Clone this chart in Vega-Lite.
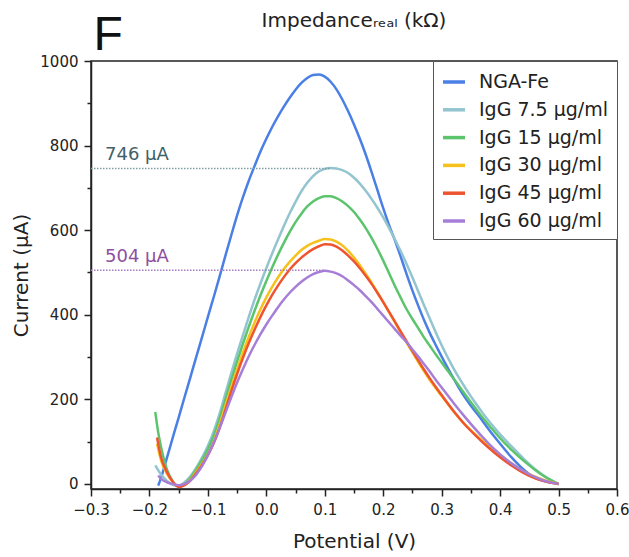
{
  "$schema": "https://vega.github.io/schema/vega-lite/v6.json",
  "width": 629,
  "height": 557,
  "autosize": {"type": "fit", "contains": "padding"},
  "padding": {"left": 11, "right": 0, "top": 11, "bottom": 6},
  "background": "white",
  "config": {"font": "DejaVu Sans", "view": {"stroke": "#222", "strokeWidth": 1.5}},
  "title": {"text": "Impedanceᵣₑₐₗ (kΩ)", "anchor": "middle", "frame": "group", "fontSize": 20, "fontWeight": "normal", "color": "#222", "offset": -20},
  "datasets": {
    "refs": [
      {"id": "a", "x0": -0.3, "x1": 0.109, "y": 746, "lx": -0.276, "ly": 767, "label": "746 μA"},
      {"id": "b", "x0": -0.3, "x1": 0.1, "y": 505, "lx": -0.276, "ly": 525, "label": "504 μA"}
    ],
    "curves": [
      {"s":"NGA-Fe","V":-0.185,"I":-4},{"s":"NGA-Fe","V":-0.18,"I":15},{"s":"NGA-Fe","V":-0.17,"I":62},{"s":"NGA-Fe","V":-0.16,"I":110},{"s":"NGA-Fe","V":-0.15,"I":157},{"s":"NGA-Fe","V":-0.14,"I":205},{"s":"NGA-Fe","V":-0.13,"I":252},{"s":"NGA-Fe","V":-0.12,"I":300},{"s":"NGA-Fe","V":-0.11,"I":347},{"s":"NGA-Fe","V":-0.10,"I":395},{"s":"NGA-Fe","V":-0.09,"I":442},{"s":"NGA-Fe","V":-0.08,"I":490},{"s":"NGA-Fe","V":-0.07,"I":540},{"s":"NGA-Fe","V":-0.06,"I":588},{"s":"NGA-Fe","V":-0.05,"I":635},{"s":"NGA-Fe","V":-0.04,"I":678},{"s":"NGA-Fe","V":-0.03,"I":717},{"s":"NGA-Fe","V":-0.02,"I":752},{"s":"NGA-Fe","V":-0.01,"I":786},{"s":"NGA-Fe","V":0.0,"I":816},{"s":"NGA-Fe","V":0.01,"I":844},{"s":"NGA-Fe","V":0.02,"I":869},{"s":"NGA-Fe","V":0.03,"I":892},{"s":"NGA-Fe","V":0.04,"I":913},{"s":"NGA-Fe","V":0.05,"I":932},{"s":"NGA-Fe","V":0.06,"I":948},{"s":"NGA-Fe","V":0.07,"I":960},{"s":"NGA-Fe","V":0.08,"I":967},{"s":"NGA-Fe","V":0.09,"I":968},{"s":"NGA-Fe","V":0.10,"I":963},{"s":"NGA-Fe","V":0.11,"I":951},{"s":"NGA-Fe","V":0.12,"I":933},{"s":"NGA-Fe","V":0.13,"I":909},{"s":"NGA-Fe","V":0.14,"I":881},{"s":"NGA-Fe","V":0.15,"I":850},{"s":"NGA-Fe","V":0.16,"I":816},{"s":"NGA-Fe","V":0.17,"I":779},{"s":"NGA-Fe","V":0.18,"I":738},{"s":"NGA-Fe","V":0.19,"I":695},{"s":"NGA-Fe","V":0.20,"I":652},{"s":"NGA-Fe","V":0.21,"I":612},{"s":"NGA-Fe","V":0.22,"I":576},{"s":"NGA-Fe","V":0.23,"I":537},{"s":"NGA-Fe","V":0.24,"I":496},{"s":"NGA-Fe","V":0.25,"I":457},{"s":"NGA-Fe","V":0.26,"I":421},{"s":"NGA-Fe","V":0.27,"I":387},{"s":"NGA-Fe","V":0.28,"I":356},{"s":"NGA-Fe","V":0.29,"I":328},{"s":"NGA-Fe","V":0.30,"I":301},{"s":"NGA-Fe","V":0.31,"I":275},{"s":"NGA-Fe","V":0.32,"I":250},{"s":"NGA-Fe","V":0.33,"I":226},{"s":"NGA-Fe","V":0.34,"I":204},{"s":"NGA-Fe","V":0.35,"I":185},{"s":"NGA-Fe","V":0.36,"I":167},{"s":"NGA-Fe","V":0.37,"I":149},{"s":"NGA-Fe","V":0.38,"I":130},{"s":"NGA-Fe","V":0.39,"I":112},{"s":"NGA-Fe","V":0.40,"I":95},{"s":"NGA-Fe","V":0.42,"I":62},{"s":"NGA-Fe","V":0.44,"I":34},{"s":"NGA-Fe","V":0.46,"I":14},{"s":"NGA-Fe","V":0.48,"I":5},{"s":"NGA-Fe","V":0.50,"I":0},

      {"s":"IgG 7.5 μg/ml","V":-0.19,"I":44},{"s":"IgG 7.5 μg/ml","V":-0.18,"I":22},{"s":"IgG 7.5 μg/ml","V":-0.17,"I":7},{"s":"IgG 7.5 μg/ml","V":-0.16,"I":-2},{"s":"IgG 7.5 μg/ml","V":-0.15,"I":-4},{"s":"IgG 7.5 μg/ml","V":-0.14,"I":4},{"s":"IgG 7.5 μg/ml","V":-0.13,"I":18},{"s":"IgG 7.5 μg/ml","V":-0.12,"I":38},{"s":"IgG 7.5 μg/ml","V":-0.11,"I":62},{"s":"IgG 7.5 μg/ml","V":-0.10,"I":90},{"s":"IgG 7.5 μg/ml","V":-0.09,"I":124},{"s":"IgG 7.5 μg/ml","V":-0.08,"I":166},{"s":"IgG 7.5 μg/ml","V":-0.07,"I":214},{"s":"IgG 7.5 μg/ml","V":-0.06,"I":262},{"s":"IgG 7.5 μg/ml","V":-0.05,"I":308},{"s":"IgG 7.5 μg/ml","V":-0.04,"I":352},{"s":"IgG 7.5 μg/ml","V":-0.03,"I":395},{"s":"IgG 7.5 μg/ml","V":-0.02,"I":436},{"s":"IgG 7.5 μg/ml","V":-0.01,"I":474},{"s":"IgG 7.5 μg/ml","V":0.0,"I":510},{"s":"IgG 7.5 μg/ml","V":0.01,"I":545},{"s":"IgG 7.5 μg/ml","V":0.02,"I":578},{"s":"IgG 7.5 μg/ml","V":0.03,"I":610},{"s":"IgG 7.5 μg/ml","V":0.04,"I":640},{"s":"IgG 7.5 μg/ml","V":0.05,"I":667},{"s":"IgG 7.5 μg/ml","V":0.06,"I":692},{"s":"IgG 7.5 μg/ml","V":0.07,"I":712},{"s":"IgG 7.5 μg/ml","V":0.08,"I":728},{"s":"IgG 7.5 μg/ml","V":0.09,"I":739},{"s":"IgG 7.5 μg/ml","V":0.10,"I":745},{"s":"IgG 7.5 μg/ml","V":0.11,"I":747},{"s":"IgG 7.5 μg/ml","V":0.12,"I":746},{"s":"IgG 7.5 μg/ml","V":0.13,"I":742},{"s":"IgG 7.5 μg/ml","V":0.14,"I":735},{"s":"IgG 7.5 μg/ml","V":0.15,"I":724},{"s":"IgG 7.5 μg/ml","V":0.16,"I":710},{"s":"IgG 7.5 μg/ml","V":0.17,"I":693},{"s":"IgG 7.5 μg/ml","V":0.18,"I":674},{"s":"IgG 7.5 μg/ml","V":0.19,"I":653},{"s":"IgG 7.5 μg/ml","V":0.20,"I":630},{"s":"IgG 7.5 μg/ml","V":0.21,"I":605},{"s":"IgG 7.5 μg/ml","V":0.22,"I":578},{"s":"IgG 7.5 μg/ml","V":0.23,"I":550},{"s":"IgG 7.5 μg/ml","V":0.24,"I":520},{"s":"IgG 7.5 μg/ml","V":0.25,"I":488},{"s":"IgG 7.5 μg/ml","V":0.26,"I":455},{"s":"IgG 7.5 μg/ml","V":0.27,"I":422},{"s":"IgG 7.5 μg/ml","V":0.28,"I":390},{"s":"IgG 7.5 μg/ml","V":0.29,"I":358},{"s":"IgG 7.5 μg/ml","V":0.30,"I":328},{"s":"IgG 7.5 μg/ml","V":0.31,"I":300},{"s":"IgG 7.5 μg/ml","V":0.32,"I":274},{"s":"IgG 7.5 μg/ml","V":0.33,"I":250},{"s":"IgG 7.5 μg/ml","V":0.34,"I":228},{"s":"IgG 7.5 μg/ml","V":0.35,"I":207},{"s":"IgG 7.5 μg/ml","V":0.36,"I":187},{"s":"IgG 7.5 μg/ml","V":0.37,"I":168},{"s":"IgG 7.5 μg/ml","V":0.38,"I":150},{"s":"IgG 7.5 μg/ml","V":0.39,"I":133},{"s":"IgG 7.5 μg/ml","V":0.40,"I":117},{"s":"IgG 7.5 μg/ml","V":0.42,"I":88},{"s":"IgG 7.5 μg/ml","V":0.44,"I":60},{"s":"IgG 7.5 μg/ml","V":0.46,"I":35},{"s":"IgG 7.5 μg/ml","V":0.48,"I":15},{"s":"IgG 7.5 μg/ml","V":0.50,"I":0},

      {"s":"IgG 15 μg/ml","V":-0.19,"I":170},{"s":"IgG 15 μg/ml","V":-0.185,"I":122},{"s":"IgG 15 μg/ml","V":-0.18,"I":86},{"s":"IgG 15 μg/ml","V":-0.175,"I":57},{"s":"IgG 15 μg/ml","V":-0.17,"I":34},{"s":"IgG 15 μg/ml","V":-0.16,"I":6},{"s":"IgG 15 μg/ml","V":-0.15,"I":-6},{"s":"IgG 15 μg/ml","V":-0.14,"I":0},{"s":"IgG 15 μg/ml","V":-0.13,"I":14},{"s":"IgG 15 μg/ml","V":-0.12,"I":34},{"s":"IgG 15 μg/ml","V":-0.11,"I":56},{"s":"IgG 15 μg/ml","V":-0.10,"I":82},{"s":"IgG 15 μg/ml","V":-0.09,"I":114},{"s":"IgG 15 μg/ml","V":-0.08,"I":154},{"s":"IgG 15 μg/ml","V":-0.07,"I":200},{"s":"IgG 15 μg/ml","V":-0.06,"I":246},{"s":"IgG 15 μg/ml","V":-0.05,"I":290},{"s":"IgG 15 μg/ml","V":-0.04,"I":332},{"s":"IgG 15 μg/ml","V":-0.03,"I":372},{"s":"IgG 15 μg/ml","V":-0.02,"I":410},{"s":"IgG 15 μg/ml","V":-0.01,"I":446},{"s":"IgG 15 μg/ml","V":0.0,"I":480},{"s":"IgG 15 μg/ml","V":0.01,"I":512},{"s":"IgG 15 μg/ml","V":0.02,"I":542},{"s":"IgG 15 μg/ml","V":0.03,"I":570},{"s":"IgG 15 μg/ml","V":0.04,"I":596},{"s":"IgG 15 μg/ml","V":0.05,"I":619},{"s":"IgG 15 μg/ml","V":0.06,"I":639},{"s":"IgG 15 μg/ml","V":0.07,"I":656},{"s":"IgG 15 μg/ml","V":0.08,"I":668},{"s":"IgG 15 μg/ml","V":0.09,"I":676},{"s":"IgG 15 μg/ml","V":0.10,"I":680},{"s":"IgG 15 μg/ml","V":0.11,"I":680},{"s":"IgG 15 μg/ml","V":0.12,"I":676},{"s":"IgG 15 μg/ml","V":0.13,"I":668},{"s":"IgG 15 μg/ml","V":0.14,"I":657},{"s":"IgG 15 μg/ml","V":0.15,"I":643},{"s":"IgG 15 μg/ml","V":0.16,"I":625},{"s":"IgG 15 μg/ml","V":0.17,"I":605},{"s":"IgG 15 μg/ml","V":0.18,"I":582},{"s":"IgG 15 μg/ml","V":0.19,"I":556},{"s":"IgG 15 μg/ml","V":0.20,"I":528},{"s":"IgG 15 μg/ml","V":0.21,"I":498},{"s":"IgG 15 μg/ml","V":0.22,"I":468},{"s":"IgG 15 μg/ml","V":0.23,"I":440},{"s":"IgG 15 μg/ml","V":0.24,"I":413},{"s":"IgG 15 μg/ml","V":0.25,"I":390},{"s":"IgG 15 μg/ml","V":0.26,"I":368},{"s":"IgG 15 μg/ml","V":0.27,"I":346},{"s":"IgG 15 μg/ml","V":0.28,"I":326},{"s":"IgG 15 μg/ml","V":0.29,"I":306},{"s":"IgG 15 μg/ml","V":0.30,"I":287},{"s":"IgG 15 μg/ml","V":0.31,"I":268},{"s":"IgG 15 μg/ml","V":0.32,"I":250},{"s":"IgG 15 μg/ml","V":0.33,"I":231},{"s":"IgG 15 μg/ml","V":0.34,"I":212},{"s":"IgG 15 μg/ml","V":0.35,"I":193},{"s":"IgG 15 μg/ml","V":0.36,"I":175},{"s":"IgG 15 μg/ml","V":0.37,"I":157},{"s":"IgG 15 μg/ml","V":0.38,"I":140},{"s":"IgG 15 μg/ml","V":0.39,"I":124},{"s":"IgG 15 μg/ml","V":0.40,"I":108},{"s":"IgG 15 μg/ml","V":0.42,"I":80},{"s":"IgG 15 μg/ml","V":0.44,"I":55},{"s":"IgG 15 μg/ml","V":0.46,"I":33},{"s":"IgG 15 μg/ml","V":0.48,"I":14},{"s":"IgG 15 μg/ml","V":0.50,"I":0},

      {"s":"IgG 30 μg/ml","V":-0.187,"I":95},{"s":"IgG 30 μg/ml","V":-0.18,"I":55},{"s":"IgG 30 μg/ml","V":-0.17,"I":24},{"s":"IgG 30 μg/ml","V":-0.16,"I":4},{"s":"IgG 30 μg/ml","V":-0.15,"I":-6},{"s":"IgG 30 μg/ml","V":-0.14,"I":-2},{"s":"IgG 30 μg/ml","V":-0.13,"I":10},{"s":"IgG 30 μg/ml","V":-0.12,"I":28},{"s":"IgG 30 μg/ml","V":-0.11,"I":48},{"s":"IgG 30 μg/ml","V":-0.10,"I":70},{"s":"IgG 30 μg/ml","V":-0.09,"I":100},{"s":"IgG 30 μg/ml","V":-0.08,"I":140},{"s":"IgG 30 μg/ml","V":-0.07,"I":185},{"s":"IgG 30 μg/ml","V":-0.06,"I":229},{"s":"IgG 30 μg/ml","V":-0.05,"I":271},{"s":"IgG 30 μg/ml","V":-0.04,"I":311},{"s":"IgG 30 μg/ml","V":-0.03,"I":348},{"s":"IgG 30 μg/ml","V":-0.02,"I":382},{"s":"IgG 30 μg/ml","V":-0.01,"I":413},{"s":"IgG 30 μg/ml","V":0.0,"I":441},{"s":"IgG 30 μg/ml","V":0.01,"I":466},{"s":"IgG 30 μg/ml","V":0.02,"I":488},{"s":"IgG 30 μg/ml","V":0.03,"I":508},{"s":"IgG 30 μg/ml","V":0.04,"I":525},{"s":"IgG 30 μg/ml","V":0.05,"I":540},{"s":"IgG 30 μg/ml","V":0.06,"I":553},{"s":"IgG 30 μg/ml","V":0.07,"I":563},{"s":"IgG 30 μg/ml","V":0.08,"I":570},{"s":"IgG 30 μg/ml","V":0.09,"I":575},{"s":"IgG 30 μg/ml","V":0.10,"I":579},{"s":"IgG 30 μg/ml","V":0.11,"I":578},{"s":"IgG 30 μg/ml","V":0.12,"I":573},{"s":"IgG 30 μg/ml","V":0.13,"I":564},{"s":"IgG 30 μg/ml","V":0.14,"I":551},{"s":"IgG 30 μg/ml","V":0.15,"I":535},{"s":"IgG 30 μg/ml","V":0.16,"I":517},{"s":"IgG 30 μg/ml","V":0.17,"I":497},{"s":"IgG 30 μg/ml","V":0.18,"I":476},{"s":"IgG 30 μg/ml","V":0.19,"I":453},{"s":"IgG 30 μg/ml","V":0.20,"I":430},{"s":"IgG 30 μg/ml","V":0.21,"I":406},{"s":"IgG 30 μg/ml","V":0.22,"I":382},{"s":"IgG 30 μg/ml","V":0.23,"I":358},{"s":"IgG 30 μg/ml","V":0.24,"I":334},{"s":"IgG 30 μg/ml","V":0.25,"I":311},{"s":"IgG 30 μg/ml","V":0.26,"I":288},{"s":"IgG 30 μg/ml","V":0.27,"I":266},{"s":"IgG 30 μg/ml","V":0.28,"I":245},{"s":"IgG 30 μg/ml","V":0.29,"I":226},{"s":"IgG 30 μg/ml","V":0.30,"I":208},{"s":"IgG 30 μg/ml","V":0.32,"I":172},{"s":"IgG 30 μg/ml","V":0.34,"I":140},{"s":"IgG 30 μg/ml","V":0.36,"I":114},{"s":"IgG 30 μg/ml","V":0.38,"I":90},{"s":"IgG 30 μg/ml","V":0.40,"I":69},{"s":"IgG 30 μg/ml","V":0.42,"I":48},{"s":"IgG 30 μg/ml","V":0.44,"I":30},{"s":"IgG 30 μg/ml","V":0.46,"I":17},{"s":"IgG 30 μg/ml","V":0.48,"I":7},{"s":"IgG 30 μg/ml","V":0.50,"I":0},

      {"s":"IgG 45 μg/ml","V":-0.187,"I":110},{"s":"IgG 45 μg/ml","V":-0.18,"I":62},{"s":"IgG 45 μg/ml","V":-0.17,"I":28},{"s":"IgG 45 μg/ml","V":-0.16,"I":5},{"s":"IgG 45 μg/ml","V":-0.15,"I":-7},{"s":"IgG 45 μg/ml","V":-0.14,"I":-3},{"s":"IgG 45 μg/ml","V":-0.13,"I":8},{"s":"IgG 45 μg/ml","V":-0.12,"I":25},{"s":"IgG 45 μg/ml","V":-0.11,"I":45},{"s":"IgG 45 μg/ml","V":-0.10,"I":68},{"s":"IgG 45 μg/ml","V":-0.09,"I":96},{"s":"IgG 45 μg/ml","V":-0.08,"I":132},{"s":"IgG 45 μg/ml","V":-0.07,"I":175},{"s":"IgG 45 μg/ml","V":-0.06,"I":219},{"s":"IgG 45 μg/ml","V":-0.05,"I":260},{"s":"IgG 45 μg/ml","V":-0.04,"I":298},{"s":"IgG 45 μg/ml","V":-0.03,"I":333},{"s":"IgG 45 μg/ml","V":-0.02,"I":365},{"s":"IgG 45 μg/ml","V":-0.01,"I":395},{"s":"IgG 45 μg/ml","V":0.0,"I":422},{"s":"IgG 45 μg/ml","V":0.01,"I":447},{"s":"IgG 45 μg/ml","V":0.02,"I":469},{"s":"IgG 45 μg/ml","V":0.03,"I":489},{"s":"IgG 45 μg/ml","V":0.04,"I":507},{"s":"IgG 45 μg/ml","V":0.05,"I":522},{"s":"IgG 45 μg/ml","V":0.06,"I":535},{"s":"IgG 45 μg/ml","V":0.07,"I":546},{"s":"IgG 45 μg/ml","V":0.08,"I":555},{"s":"IgG 45 μg/ml","V":0.09,"I":562},{"s":"IgG 45 μg/ml","V":0.10,"I":567},{"s":"IgG 45 μg/ml","V":0.11,"I":566},{"s":"IgG 45 μg/ml","V":0.12,"I":561},{"s":"IgG 45 μg/ml","V":0.13,"I":552},{"s":"IgG 45 μg/ml","V":0.14,"I":540},{"s":"IgG 45 μg/ml","V":0.15,"I":526},{"s":"IgG 45 μg/ml","V":0.16,"I":510},{"s":"IgG 45 μg/ml","V":0.17,"I":492},{"s":"IgG 45 μg/ml","V":0.18,"I":473},{"s":"IgG 45 μg/ml","V":0.19,"I":452},{"s":"IgG 45 μg/ml","V":0.20,"I":430},{"s":"IgG 45 μg/ml","V":0.21,"I":407},{"s":"IgG 45 μg/ml","V":0.22,"I":384},{"s":"IgG 45 μg/ml","V":0.23,"I":360},{"s":"IgG 45 μg/ml","V":0.24,"I":337},{"s":"IgG 45 μg/ml","V":0.25,"I":314},{"s":"IgG 45 μg/ml","V":0.26,"I":292},{"s":"IgG 45 μg/ml","V":0.27,"I":270},{"s":"IgG 45 μg/ml","V":0.28,"I":249},{"s":"IgG 45 μg/ml","V":0.29,"I":229},{"s":"IgG 45 μg/ml","V":0.30,"I":210},{"s":"IgG 45 μg/ml","V":0.32,"I":173},{"s":"IgG 45 μg/ml","V":0.34,"I":140},{"s":"IgG 45 μg/ml","V":0.36,"I":112},{"s":"IgG 45 μg/ml","V":0.38,"I":86},{"s":"IgG 45 μg/ml","V":0.40,"I":63},{"s":"IgG 45 μg/ml","V":0.42,"I":43},{"s":"IgG 45 μg/ml","V":0.44,"I":26},{"s":"IgG 45 μg/ml","V":0.46,"I":13},{"s":"IgG 45 μg/ml","V":0.48,"I":5},{"s":"IgG 45 μg/ml","V":0.50,"I":0},

      {"s":"IgG 60 μg/ml","V":-0.185,"I":20},{"s":"IgG 60 μg/ml","V":-0.18,"I":12},{"s":"IgG 60 μg/ml","V":-0.17,"I":4},{"s":"IgG 60 μg/ml","V":-0.16,"I":0},{"s":"IgG 60 μg/ml","V":-0.15,"I":-3},{"s":"IgG 60 μg/ml","V":-0.14,"I":0},{"s":"IgG 60 μg/ml","V":-0.13,"I":8},{"s":"IgG 60 μg/ml","V":-0.12,"I":22},{"s":"IgG 60 μg/ml","V":-0.11,"I":42},{"s":"IgG 60 μg/ml","V":-0.10,"I":68},{"s":"IgG 60 μg/ml","V":-0.09,"I":98},{"s":"IgG 60 μg/ml","V":-0.08,"I":132},{"s":"IgG 60 μg/ml","V":-0.07,"I":168},{"s":"IgG 60 μg/ml","V":-0.06,"I":205},{"s":"IgG 60 μg/ml","V":-0.05,"I":240},{"s":"IgG 60 μg/ml","V":-0.04,"I":272},{"s":"IgG 60 μg/ml","V":-0.03,"I":302},{"s":"IgG 60 μg/ml","V":-0.02,"I":329},{"s":"IgG 60 μg/ml","V":-0.01,"I":354},{"s":"IgG 60 μg/ml","V":0.0,"I":377},{"s":"IgG 60 μg/ml","V":0.01,"I":398},{"s":"IgG 60 μg/ml","V":0.02,"I":418},{"s":"IgG 60 μg/ml","V":0.03,"I":436},{"s":"IgG 60 μg/ml","V":0.04,"I":452},{"s":"IgG 60 μg/ml","V":0.05,"I":466},{"s":"IgG 60 μg/ml","V":0.06,"I":478},{"s":"IgG 60 μg/ml","V":0.07,"I":488},{"s":"IgG 60 μg/ml","V":0.08,"I":496},{"s":"IgG 60 μg/ml","V":0.09,"I":501},{"s":"IgG 60 μg/ml","V":0.10,"I":504},{"s":"IgG 60 μg/ml","V":0.11,"I":502},{"s":"IgG 60 μg/ml","V":0.12,"I":498},{"s":"IgG 60 μg/ml","V":0.13,"I":491},{"s":"IgG 60 μg/ml","V":0.14,"I":481},{"s":"IgG 60 μg/ml","V":0.15,"I":470},{"s":"IgG 60 μg/ml","V":0.16,"I":458},{"s":"IgG 60 μg/ml","V":0.17,"I":444},{"s":"IgG 60 μg/ml","V":0.18,"I":430},{"s":"IgG 60 μg/ml","V":0.19,"I":414},{"s":"IgG 60 μg/ml","V":0.20,"I":398},{"s":"IgG 60 μg/ml","V":0.21,"I":382},{"s":"IgG 60 μg/ml","V":0.22,"I":366},{"s":"IgG 60 μg/ml","V":0.23,"I":350},{"s":"IgG 60 μg/ml","V":0.24,"I":335},{"s":"IgG 60 μg/ml","V":0.25,"I":318},{"s":"IgG 60 μg/ml","V":0.26,"I":301},{"s":"IgG 60 μg/ml","V":0.27,"I":283},{"s":"IgG 60 μg/ml","V":0.28,"I":265},{"s":"IgG 60 μg/ml","V":0.29,"I":246},{"s":"IgG 60 μg/ml","V":0.30,"I":228},{"s":"IgG 60 μg/ml","V":0.32,"I":192},{"s":"IgG 60 μg/ml","V":0.34,"I":158},{"s":"IgG 60 μg/ml","V":0.36,"I":126},{"s":"IgG 60 μg/ml","V":0.38,"I":96},{"s":"IgG 60 μg/ml","V":0.40,"I":70},{"s":"IgG 60 μg/ml","V":0.42,"I":48},{"s":"IgG 60 μg/ml","V":0.44,"I":30},{"s":"IgG 60 μg/ml","V":0.46,"I":16},{"s":"IgG 60 μg/ml","V":0.48,"I":6},{"s":"IgG 60 μg/ml","V":0.50,"I":0}
    ]
  },
  "resolve": {"axis": {"x": "independent"}},
  "layer": [
    {
      "data": {"name": "curves"},
      "mark": {"type": "line", "strokeWidth": 2.5, "interpolate": "monotone"},
      "encoding": {
        "x": {"field": "V", "type": "quantitative",
          "scale": {"domain": [-0.3, 0.6], "nice": false, "zero": false},
          "axis": {"orient": "bottom", "title": "Potential (V)",
            "values": [-0.3,-0.25,-0.2,-0.15,-0.1,-0.05,0,0.05,0.1,0.15,0.2,0.25,0.3,0.35,0.4,0.45,0.5,0.55,0.6],
            "format": ".1f",
            "labelExpr": "abs(datum.value*10 - round(datum.value*10)) < 0.001 ? datum.label : ''",
            "tickSize": {"condition": {"test": "abs(datum.value*10 - round(datum.value*10)) < 0.001", "value": 7}, "value": 4},
            "labelFlush": false, "labelFontSize": 15, "labelPadding": 6, "labelColor": "#222",
            "titleFontSize": 20, "titleFontWeight": "normal", "titleColor": "#222", "titlePadding": 14,
            "domainColor": "#222", "domainWidth": 1.5, "tickColor": "#222", "tickWidth": 1.5, "grid": false}},
        "y": {"field": "I", "type": "quantitative",
          "scale": {"domain": [-12, 1000], "nice": false, "zero": false},
          "axis": {"title": "Current (μA)",
            "values": [0,100,200,300,400,500,600,700,800,900,1000],
            "format": "d",
            "labelExpr": "datum.value % 200 === 0 ? datum.label : ''",
            "tickSize": {"condition": {"test": "datum.value % 200 === 0", "value": 7}, "value": 4},
            "labelFontSize": 15, "labelPadding": 6, "labelColor": "#222",
            "titleFontSize": 20, "titleFontWeight": "normal", "titleColor": "#222", "titlePadding": 8,
            "domainColor": "#222", "domainWidth": 1.5, "tickColor": "#222", "tickWidth": 1.5, "grid": false}},
        "color": {"field": "s", "type": "nominal",
          "scale": {"domain": ["NGA-Fe", "IgG 7.5 μg/ml", "IgG 15 μg/ml", "IgG 30 μg/ml", "IgG 45 μg/ml", "IgG 60 μg/ml"],
                    "range": ["#4a7fe6", "#93c4cf", "#5bc46c", "#f6c11c", "#ef5430", "#a67ed8"]},
          "legend": {"title": null, "orient": "top-right", "offset": 0, "padding": 8,
            "strokeColor": "#555", "fillColor": "white",
            "symbolType": "stroke", "symbolSize": 484, "symbolStrokeWidth": 3.5,
            "labelFontSize": 19, "labelColor": "#222", "labelOffset": 12, "rowPadding": 4.8}}
      }
    },
    {
      "data": {"name": "refs"},
      "transform": [{"filter": "datum.id === 'a'"}],
      "mark": {"type": "rule", "strokeDash": [1.5, 1.5], "strokeWidth": 1.5, "color": "#7f9ea3"},
      "encoding": {
        "x": {"field": "x0", "type": "quantitative",
          "axis": {"orient": "top", "title": "F", "titleFont": "Liberation Sans", "titleFontSize": 48, "titleFontWeight": "normal",
            "titleColor": "#111", "titleX": 2, "titleY": -12, "titleAlign": "left", "titleBaseline": "alphabetic", "titleAngle": 0,
            "labels": false, "ticks": false, "domain": false, "grid": false}},
        "x2": {"field": "x1"},
        "y": {"field": "y", "type": "quantitative", "title": "Current (μA)"}
      }
    },
    {
      "data": {"name": "refs"},
      "transform": [{"filter": "datum.id === 'b'"}],
      "mark": {"type": "rule", "strokeDash": [1.5, 1.5], "strokeWidth": 1.5, "color": "#a97cc2"},
      "encoding": {
        "x": {"field": "x0", "type": "quantitative", "axis": null},
        "x2": {"field": "x1"},
        "y": {"field": "y", "type": "quantitative", "title": "Current (μA)"}
      }
    },
    {
      "data": {"name": "refs"},
      "transform": [{"filter": "datum.id === 'a'"}],
      "mark": {"type": "text", "align": "left", "baseline": "alphabetic", "fontSize": 18, "color": "#3f6168"},
      "encoding": {
        "x": {"field": "lx", "type": "quantitative", "axis": null},
        "y": {"field": "ly", "type": "quantitative", "title": "Current (μA)"},
        "text": {"field": "label"}
      }
    },
    {
      "data": {"name": "refs"},
      "transform": [{"filter": "datum.id === 'b'"}],
      "mark": {"type": "text", "align": "left", "baseline": "alphabetic", "fontSize": 18, "color": "#8e4fa0"},
      "encoding": {
        "x": {"field": "lx", "type": "quantitative", "axis": null},
        "y": {"field": "ly", "type": "quantitative", "title": "Current (μA)"},
        "text": {"field": "label"}
      }
    }
  ]
}
